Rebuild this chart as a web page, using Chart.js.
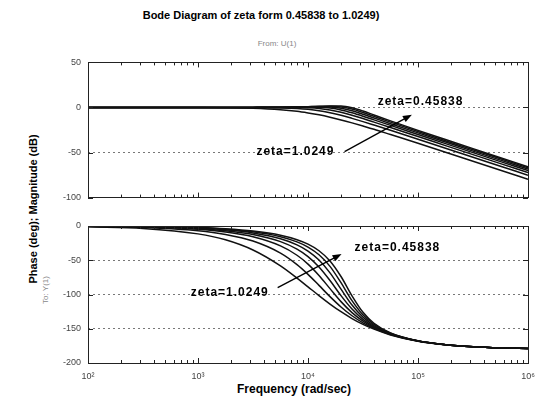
<!DOCTYPE html>
<html>
<head>
<meta charset="utf-8">
<title>Bode Diagram</title>
<script src="https://cdn.jsdelivr.net/npm/chart.js@4.4.1/dist/chart.umd.min.js"></script>
<style>
  body { margin: 0; background: #fff; }
  #wrap { position: relative; width: 544px; height: 414px; overflow: hidden; font-family: "Liberation Sans", Arial, sans-serif; }
  canvas { position: absolute; left: 0; }
  #magChart { top: 50px; }
  #phaseChart { top: 210px; }
  .txt { position: absolute; white-space: nowrap; color: #000; }
  .rot { transform: translate(-50%, -50%) rotate(-90deg); }
  .mid { transform: translate(-50%, -50%); }
</style>
</head>
<body>
<div id="wrap">
  <div class="txt mid" style="left:261px; top:15px; font-weight:bold; font-size:11px;">Bode Diagram of zeta form 0.45838 to 1.0249)</div>
  <div class="txt mid" style="left:277px; top:43px; font-size:8px; color:#888;">From: U(1)</div>
  <div class="txt rot" style="left:33px; top:209px; font-weight:bold; font-size:11px;">Phase (deg); Magnitude (dB)</div>
  <div class="txt rot" style="left:45px; top:290px; font-size:8px; color:#888;">To: Y(1)</div>
  <div class="txt mid" style="left:294px; top:389px; font-weight:bold; font-size:12px;">Frequency (rad/sec)</div>
  <canvas id="magChart" width="544" height="160"></canvas>
  <canvas id="phaseChart" width="544" height="180"></canvas>
</div>
<script>
// frequency grid (rad/sec)
const freqs = [100, 316, 1000, 1778, 3162, 5623, 7943, 10000, 12589, 15849, 19953, 25119, 31623, 39811, 56234, 100000, 177828, 316228, 562341, 1000000];
const zetas = [0.45838, 0.4923, 0.5352, 0.5917, 0.6710, 0.7939, 1.0249];

// magnitude (dB), one array per zeta
const mag1 = [0, 0, 0, 0, 0.1, 0.3, 0.6, 0.9, 1.3, 1.7, 1.6, -0.3, -3.9, -8.3, -14.9, -25.4, -35.6, -45.7, -55.7, -65.7];
const mag2 = [0, 0, 0, 0, 0.1, 0.3, 0.6, 0.9, 1.2, 1.3, 0.6, -1.8, -5.6, -9.9, -16.3, -26.7, -36.9, -46.9, -56.9, -66.9];
const mag3 = [0, 0, 0, 0, 0.1, 0.3, 0.5, 0.7, 0.9, 0.6, -0.8, -3.7, -7.5, -11.7, -18.0, -28.2, -38.3, -48.4, -58.4, -68.4];
const mag4 = [0, 0, 0, 0, 0.1, 0.2, 0.4, 0.4, 0.2, -0.7, -2.7, -5.9, -9.7, -13.8, -19.9, -30.0, -40.1, -50.1, -60.1, -70.1];
const mag5 = [0, 0, 0, 0, 0, 0, -0.1, -0.4, -1.1, -2.7, -5.3, -8.6, -12.3, -16.3, -22.2, -32.3, -42.3, -52.3, -62.3, -72.3];
const mag6 = [0, 0, 0, 0, -0.1, -0.5, -1.2, -2.1, -3.6, -5.9, -8.7, -12.1, -15.7, -19.5, -25.3, -35.2, -45.2, -55.2, -65.2, -75.2];
const mag7 = [0, 0, -0.1, -0.3, -0.9, -2.5, -4.3, -6.1, -8.2, -10.8, -13.8, -17.1, -20.6, -24.2, -30.0, -39.7, -49.7, -59.7, -69.6, -79.6];

// phase (deg), one array per zeta
const phase1 = [-0.2, -0.7, -2.3, -4.1, -7.4, -13.5, -20.0, -26.5, -36.1, -51.0, -73.7, -101.9, -126.0, -142.0, -156.0, -167.6, -173.2, -176.2, -177.9, -178.8];
const phase2 = [-0.3, -0.8, -2.7, -4.8, -8.5, -15.7, -23.2, -30.8, -42.0, -58.9, -82.8, -108.9, -129.7, -143.7, -156.6, -167.7, -173.2, -176.2, -177.9, -178.8];
const phase3 = [-0.3, -1.0, -3.1, -5.6, -10.1, -18.6, -27.5, -36.6, -49.7, -68.5, -92.2, -115.4, -133.1, -145.3, -157.1, -167.7, -173.2, -176.2, -177.9, -178.8];
const phase4 = [-0.4, -1.2, -3.9, -6.9, -12.4, -22.8, -33.7, -44.6, -59.8, -79.6, -101.7, -121.3, -136.2, -146.8, -157.6, -167.8, -173.2, -176.2, -177.9, -178.8];
const phase5 = [-0.5, -1.6, -4.9, -8.8, -15.8, -29.1, -42.7, -55.6, -72.2, -91.4, -110.4, -126.4, -138.8, -148.2, -158.0, -167.9, -173.2, -176.2, -177.9, -178.8];
const phase6 = [-0.7, -2.2, -6.9, -12.3, -22.0, -39.6, -56.4, -70.6, -86.7, -103.1, -118.2, -131.0, -141.3, -149.4, -158.5, -168.0, -173.3, -176.2, -177.9, -178.8];
const phase7 = [-1.2, -3.6, -11.5, -20.2, -35.1, -58.3, -76.1, -88.8, -101.6, -113.9, -125.1, -135.1, -143.6, -150.6, -159.0, -168.1, -173.3, -176.2, -177.9, -178.8];

const magTicks = [50, 0, -50, -100];
const phaseTicks = [0, -50, -100, -150, -200];
const decadeLabels = ['10\u00B2', '10\u00B3', '10\u2074', '10\u2075', '10\u2076'];

Chart.defaults.font.family = '"Liberation Sans", Arial, sans-serif';

function buildDatasets(series) {
    return series.map((ys, i) => ({
        label: 'zeta=' + zetas[i],
        data: freqs.map((f, j) => ({ x: f, y: ys[j] })),
        borderColor: '#111',
        borderWidth: 1.5,
        pointRadius: 0,
        fill: false,
        cubicInterpolationMode: 'monotone'
    }));
}

// box around the plot area plus MATLAB-style inward tick marks
const bodeFrame = {
    id: 'bodeFrame',
    afterDraw(chart) {
        const { ctx, chartArea: a, scales } = chart;
        ctx.save();
        ctx.strokeStyle = '#222';
        ctx.lineWidth = 1;
        ctx.strokeRect(Math.round(a.left) + 0.5, Math.round(a.top) + 0.5, Math.round(a.right - a.left), Math.round(a.bottom - a.top));
        ctx.beginPath();
        for (let e = 2; e < 6; e++) {
            for (let m = 1; m < 10; m++) {
                const px = Math.round(scales.x.getPixelForValue(m * Math.pow(10, e))) + 0.5;
                const len = m === 1 ? 5 : 3;
                ctx.moveTo(px, a.top); ctx.lineTo(px, a.top + len);
                ctx.moveTo(px, a.bottom); ctx.lineTo(px, a.bottom - len);
            }
        }
        scales.y.ticks.forEach(t => {
            const py = Math.round(scales.y.getPixelForValue(t.value)) + 0.5;
            ctx.moveTo(a.left, py); ctx.lineTo(a.left + 5, py);
            ctx.moveTo(a.right, py); ctx.lineTo(a.right - 5, py);
        });
        ctx.stroke();
        ctx.restore();
    }
};

// zeta labels and arrows, placed in data units
function zetaNotes(notes) {
    return {
        id: 'zetaNotes',
        afterDatasetsDraw(chart) {
            const { ctx, scales } = chart;
            const px = v => scales.x.getPixelForValue(v);
            const py = v => scales.y.getPixelForValue(v);
            ctx.save();
            ctx.fillStyle = '#000';
            ctx.strokeStyle = '#000';
            ctx.font = 'bold 12px "Liberation Sans", Arial, sans-serif';
            ctx.letterSpacing = '1px';
            ctx.textBaseline = 'middle';
            notes.labels.forEach(l => {
                ctx.textAlign = l.align;
                ctx.fillText(l.text, px(l.x), py(l.y));
            });
            notes.arrows.forEach(ar => {
                const x0 = px(ar.from[0]), y0 = py(ar.from[1]);
                const x1 = px(ar.to[0]), y1 = py(ar.to[1]);
                const ang = Math.atan2(y1 - y0, x1 - x0);
                ctx.lineWidth = 1.3;
                ctx.beginPath();
                ctx.moveTo(x0, y0);
                ctx.lineTo(x1 - 6 * Math.cos(ang), y1 - 6 * Math.sin(ang));
                ctx.stroke();
                ctx.beginPath();
                ctx.moveTo(x1, y1);
                ctx.lineTo(x1 - 9 * Math.cos(ang) + 3.5 * Math.sin(ang), y1 - 9 * Math.sin(ang) - 3.5 * Math.cos(ang));
                ctx.lineTo(x1 - 9 * Math.cos(ang) - 3.5 * Math.sin(ang), y1 - 9 * Math.sin(ang) + 3.5 * Math.cos(ang));
                ctx.closePath();
                ctx.fill();
            });
            ctx.restore();
        }
    };
}

function makeOptions(yMin, yMax, yTicks, showX, padding) {
    return {
        responsive: false,
        animation: false,
        layout: { padding },
        plugins: { legend: { display: false }, tooltip: { enabled: false } },
        scales: {
            x: {
                type: 'logarithmic',
                min: 100,
                max: 1000000,
                display: showX,
                grid: { display: false, drawTicks: false },
                border: { display: false },
                afterFit: s => { s.height = showX ? 27 : 0; },
                ticks: {
                    autoSkip: false,
                    maxRotation: 0,
                    padding: 8,
                    color: '#444',
                    font: { size: 9 },
                    callback: v => {
                        const e = Math.log10(v);
                        return Math.abs(e - Math.round(e)) < 1e-6 ? decadeLabels[Math.round(e) - 2] : '';
                    }
                }
            },
            y: {
                min: yMin,
                max: yMax,
                afterBuildTicks: s => { s.ticks = yTicks.map(v => ({ value: v })); },
                afterFit: s => { s.width = 88; },
                grid: { color: '#555', lineWidth: 0.8, drawTicks: false },
                border: { display: false, dash: [2, 3] },
                ticks: { padding: 7, color: '#444', font: { size: 9 } }
            }
        }
    };
}

new Chart(document.getElementById('magChart'), {
    type: 'line',
    data: { datasets: buildDatasets([mag1, mag2, mag3, mag4, mag5, mag6, mag7]) },
    options: makeOptions(-100, 50, magTicks, false, { top: 11, right: 16, bottom: 11, left: 0 }),
    plugins: [bodeFrame, zetaNotes({
        labels: [
            { text: 'zeta=0.45838', x: 43000, y: 6, align: 'left' },
            { text: 'zeta=1.0249', x: 17400, y: -49, align: 'right' }
        ],
        arrows: [{ from: [21500, -49], to: [88000, -8] }]
    })]
});

new Chart(document.getElementById('phaseChart'), {
    type: 'line',
    data: { datasets: buildDatasets([phase1, phase2, phase3, phase4, phase5, phase6, phase7]) },
    options: makeOptions(-200, 0, phaseTicks, true, { top: 16, right: 16, bottom: 0, left: 0 }),
    plugins: [bodeFrame, zetaNotes({
        labels: [
            { text: 'zeta=0.45838', x: 26500, y: -32, align: 'left' },
            { text: 'zeta=1.0249', x: 4400, y: -97, align: 'right' }
        ],
        arrows: [{ from: [5300, -90], to: [20200, -41] }]
    })]
});
</script>
</body>
</html>
